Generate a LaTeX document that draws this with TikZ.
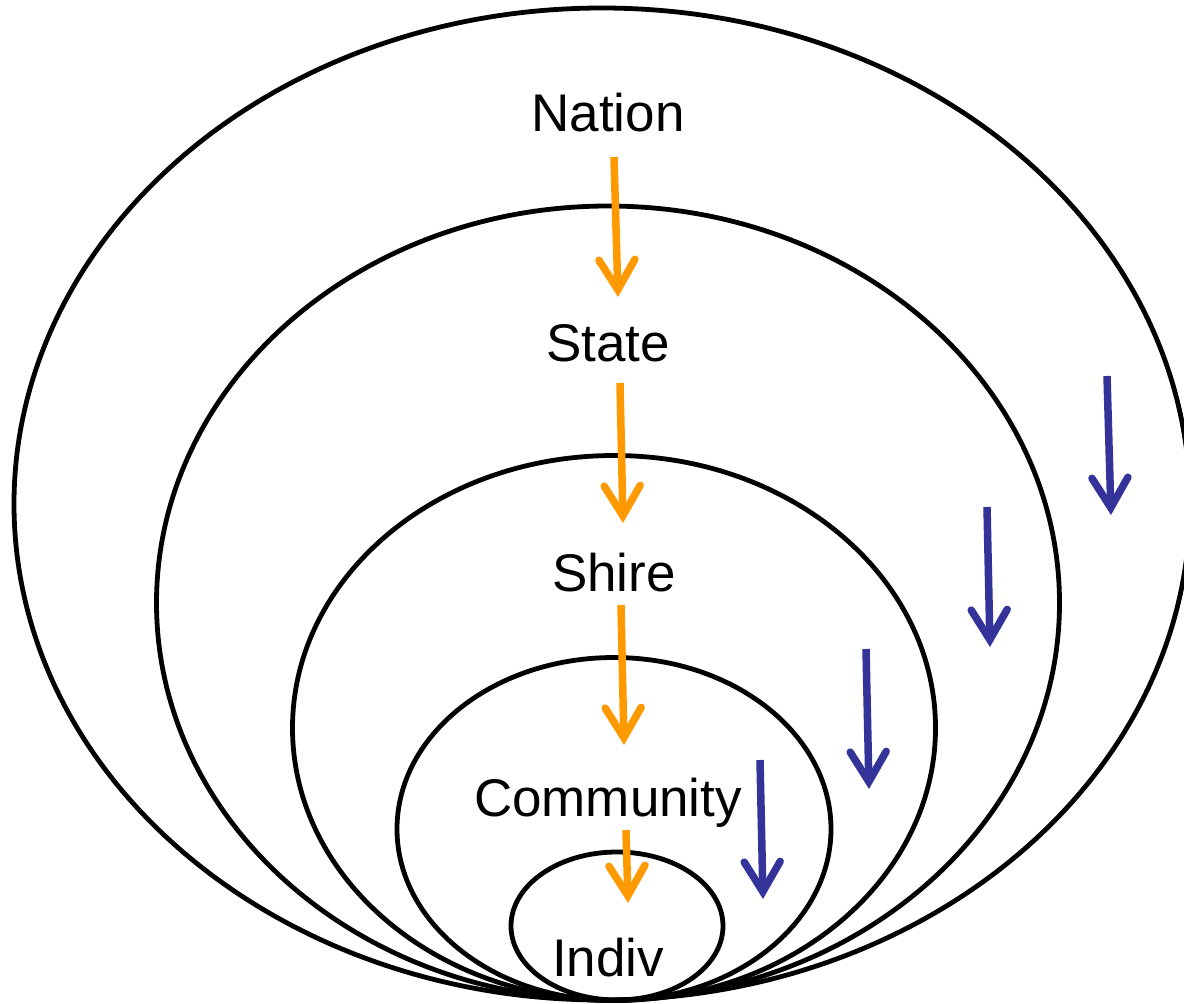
\documentclass[tikz,border=0pt]{standalone}
\usepackage{fontspec}
\setmainfont{Liberation Sans}
\usetikzlibrary{shapes.geometric,arrows.meta}
\definecolor{flowor}{HTML}{FF9900}
\definecolor{flowbl}{HTML}{333399}
\begin{document}
\begin{tikzpicture}[x=1pt,y=-1pt,
  ring/.style={draw=black,line width=4.8pt,ellipse,inner sep=0pt},
  lbl/.style={font=\fontsize{53}{60}\selectfont,inner sep=0pt,anchor=center},
  tipv/.style={-{Straight Barb[length=30pt,width=36pt,line cap=round]},line width=7.5pt},
  down/.style={tipv,draw=flowor},
  up/.style={tipv,draw=flowbl}]
\useasboundingbox (0,0) rectangle (1184,1004);
\begin{scope}
\clip (0,0) rectangle (1184,1004);
% nested spheres of scale, all meeting at the bottom
\node[ring,minimum width=1176pt,minimum height=992pt] (nat) at (602,504) {};
\node[ring,minimum width=903pt,minimum height=794pt] (sta) at (608,603) {};
\node[ring,minimum width=643pt,minimum height=545pt] (shi) at (614,728) {};
\node[ring,minimum width=434pt,minimum height=343pt] (com) at (614,829) {};
\node[ring,minimum width=212pt,minimum height=148pt] (ind) at (617,926) {};
\end{scope}
% labels
\node[lbl] (tnat) at (608,113) {Nation};
\node[lbl] (tsta) at (608,343) {State};
\node[lbl] (tshi) at (614,573) {Shire};
\node[lbl] (tcom) at (608,803) {Community};
\node[lbl] (tind) at (608,958) {Indiv};
% arrow end points
\coordinate (o1a) at (614,157); \coordinate (o1b) at (618,297);
\coordinate (o2a) at (620,383); \coordinate (o2b) at (623,523);
\coordinate (o3a) at (621,605); \coordinate (o3b) at (624,745);
\coordinate (o4a) at (626,830); \coordinate (o4b) at (628,903);
\coordinate (b1a) at (1107,376); \coordinate (b1b) at (1111,515);
\coordinate (b2a) at (987,507); \coordinate (b2b) at (990,647);
\coordinate (b3a) at (866,649); \coordinate (b3b) at (869,789);
\coordinate (b4a) at (760,760); \coordinate (b4b) at (763,899);
% flows between levels
\draw[down] (o1a) -- (o1b);
\draw[down] (o2a) -- (o2b);
\draw[down] (o3a) -- (o3b);
\draw[down] (o4a) -- (o4b);
\draw[up] (b1a) -- (b1b);
\draw[up] (b2a) -- (b2b);
\draw[up] (b3a) -- (b3b);
\draw[up] (b4a) -- (b4b);
\end{tikzpicture}
\end{document}
